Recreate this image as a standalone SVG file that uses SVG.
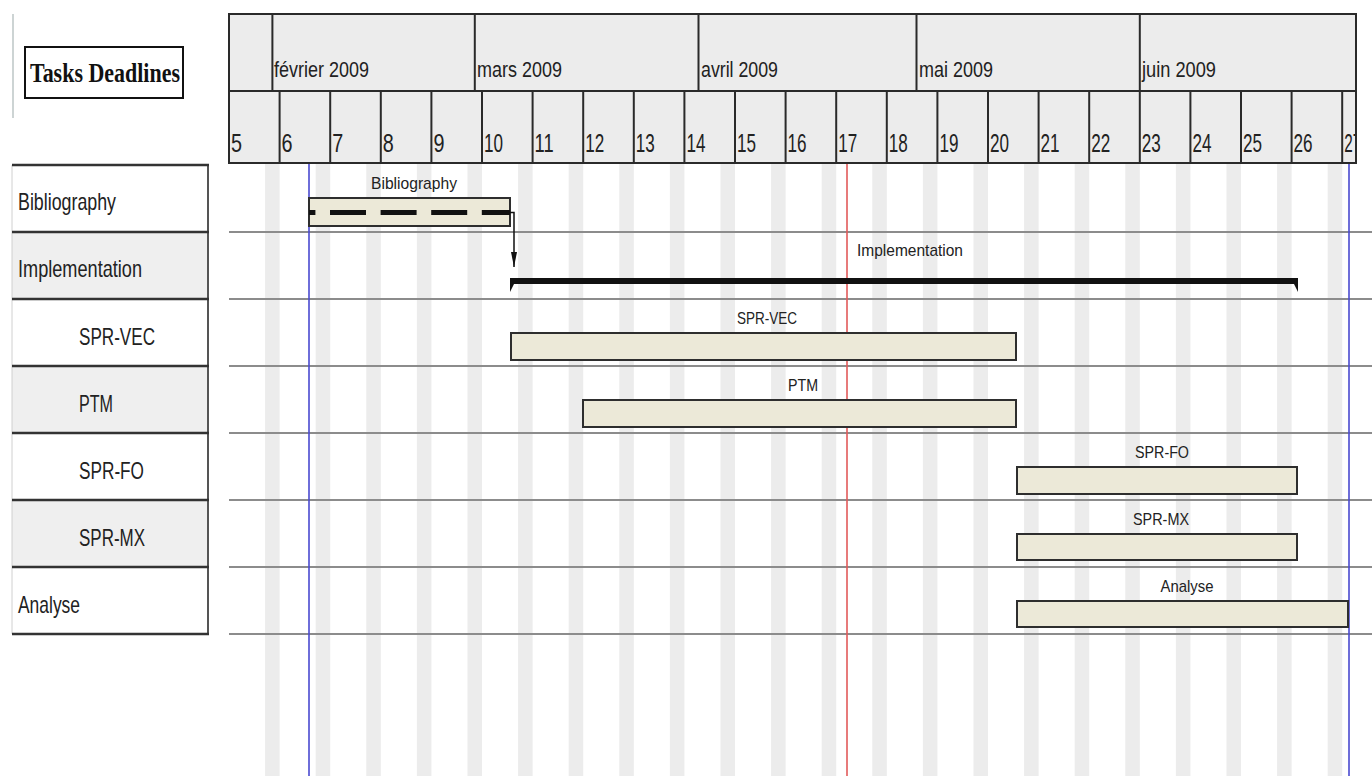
<svg xmlns="http://www.w3.org/2000/svg" width="1372" height="776" viewBox="0 0 1372 776">
<defs>
<style>
.hdr{fill:#ececec;stroke:none}
.hl{stroke:#2a2a2a;stroke-width:2;fill:none}
.mon{font-family:"Liberation Sans",Arial,sans-serif;font-size:22px;fill:#222}
.wk{font-family:"Liberation Sans",Arial,sans-serif;font-size:26px;fill:#222}
.stripe{fill:#ececec}
.grid{stroke:#8c8c8c;stroke-width:2}
.cellw{fill:#ffffff}
.cellg{fill:#efefef}
.rowb{stroke:#333;stroke-width:2.5}
.lbl{font-family:"Liberation Sans",Arial,sans-serif;font-size:24px;fill:#222}
.bar{fill:#ece9d8;stroke:#2e2e2e;stroke-width:2}
.blbl{font-family:"Liberation Sans",Arial,sans-serif;font-size:17px;fill:#222;text-anchor:middle}
</style>
<clipPath id="hclip"><rect x="229" y="14" width="1127" height="150"/></clipPath>
<marker id="arr" markerWidth="15" markerHeight="6" refX="15" refY="3" orient="auto" markerUnits="userSpaceOnUse" viewBox="0 0 15 6">
<path d="M0,0 L15,3 L0,6 Z" fill="#111"/>
</marker>
</defs>
<rect x="0" y="0" width="1372" height="776" fill="#ffffff"/>

<!-- weekend stripes -->
<g id="stripes">
<rect class="stripe" x="265.1" y="163" width="14.5" height="613"/>
<rect class="stripe" x="315.7" y="163" width="14.5" height="613"/>
<rect class="stripe" x="366.3" y="163" width="14.5" height="613"/>
<rect class="stripe" x="416.9" y="163" width="14.5" height="613"/>
<rect class="stripe" x="467.5" y="163" width="14.5" height="613"/>
<rect class="stripe" x="518.1" y="163" width="14.5" height="613"/>
<rect class="stripe" x="568.7" y="163" width="14.5" height="613"/>
<rect class="stripe" x="619.3" y="163" width="14.5" height="613"/>
<rect class="stripe" x="669.9" y="163" width="14.5" height="613"/>
<rect class="stripe" x="720.5" y="163" width="14.5" height="613"/>
<rect class="stripe" x="771.1" y="163" width="14.5" height="613"/>
<rect class="stripe" x="821.7" y="163" width="14.5" height="613"/>
<rect class="stripe" x="872.3" y="163" width="14.5" height="613"/>
<rect class="stripe" x="922.9" y="163" width="14.5" height="613"/>
<rect class="stripe" x="973.5" y="163" width="14.5" height="613"/>
<rect class="stripe" x="1024.1" y="163" width="14.5" height="613"/>
<rect class="stripe" x="1074.7" y="163" width="14.5" height="613"/>
<rect class="stripe" x="1125.3" y="163" width="14.5" height="613"/>
<rect class="stripe" x="1175.9" y="163" width="14.5" height="613"/>
<rect class="stripe" x="1226.5" y="163" width="14.5" height="613"/>
<rect class="stripe" x="1277.1" y="163" width="14.5" height="613"/>
<rect class="stripe" x="1327.7" y="163" width="14.5" height="613"/>
</g>

<!-- row grid lines -->
<g id="rowlines">
<line class="grid" x1="229" y1="232" x2="1372" y2="232"/>
<line class="grid" x1="229" y1="299" x2="1372" y2="299"/>
<line class="grid" x1="229" y1="366" x2="1372" y2="366"/>
<line class="grid" x1="229" y1="433" x2="1372" y2="433"/>
<line class="grid" x1="229" y1="500" x2="1372" y2="500"/>
<line class="grid" x1="229" y1="567" x2="1372" y2="567"/>
<line class="grid" x1="229" y1="634" x2="1372" y2="634"/>
</g>

<!-- marker lines -->
<g id="datelines">
<line x1="309" y1="163" x2="309" y2="776" stroke="#4a4ad0" stroke-width="1.6"/>
<line x1="1349" y1="163" x2="1349" y2="776" stroke="#4a4ad0" stroke-width="1.6"/>
<line x1="847" y1="163" x2="847" y2="776" stroke="#e25a5a" stroke-width="1.6"/>
</g>

<!-- timeline header -->
<g id="header">
<g clip-path="url(#hclip)">
<rect class="hdr" x="229" y="14" width="1127" height="149"/>
<line class="hl" x1="229" y1="91" x2="1356" y2="91"/>
<g class="hl">
<line x1="272.4" y1="14" x2="272.4" y2="91"/>
<line x1="474.8" y1="14" x2="474.8" y2="91"/>
<line x1="698.5" y1="14" x2="698.5" y2="91"/>
<line x1="916.5" y1="14" x2="916.5" y2="91"/>
<line x1="1139.8" y1="14" x2="1139.8" y2="91"/>
<line x1="279.6" y1="91" x2="279.6" y2="163"/>
<line x1="330.2" y1="91" x2="330.2" y2="163"/>
<line x1="380.8" y1="91" x2="380.8" y2="163"/>
<line x1="431.4" y1="91" x2="431.4" y2="163"/>
<line x1="482" y1="91" x2="482" y2="163"/>
<line x1="532.6" y1="91" x2="532.6" y2="163"/>
<line x1="583.2" y1="91" x2="583.2" y2="163"/>
<line x1="633.8" y1="91" x2="633.8" y2="163"/>
<line x1="684.4" y1="91" x2="684.4" y2="163"/>
<line x1="735" y1="91" x2="735" y2="163"/>
<line x1="785.6" y1="91" x2="785.6" y2="163"/>
<line x1="836.2" y1="91" x2="836.2" y2="163"/>
<line x1="886.8" y1="91" x2="886.8" y2="163"/>
<line x1="937.4" y1="91" x2="937.4" y2="163"/>
<line x1="988" y1="91" x2="988" y2="163"/>
<line x1="1038.6" y1="91" x2="1038.6" y2="163"/>
<line x1="1089.2" y1="91" x2="1089.2" y2="163"/>
<line x1="1139.8" y1="91" x2="1139.8" y2="163"/>
<line x1="1190.4" y1="91" x2="1190.4" y2="163"/>
<line x1="1241" y1="91" x2="1241" y2="163"/>
<line x1="1291.6" y1="91" x2="1291.6" y2="163"/>
<line x1="1342.2" y1="91" x2="1342.2" y2="163"/>
</g>
<text class="mon" x="274" y="77" textLength="95" lengthAdjust="spacingAndGlyphs">février 2009</text>
<text class="mon" x="477" y="77" textLength="85" lengthAdjust="spacingAndGlyphs">mars 2009</text>
<text class="mon" x="701" y="77" textLength="77" lengthAdjust="spacingAndGlyphs">avril 2009</text>
<text class="mon" x="919" y="77" textLength="74" lengthAdjust="spacingAndGlyphs">mai 2009</text>
<text class="mon" x="1142" y="77" textLength="74" lengthAdjust="spacingAndGlyphs">juin 2009</text>
<text class="wk" x="231" y="152" textLength="11" lengthAdjust="spacingAndGlyphs">5</text>
<text class="wk" x="281.6" y="152" textLength="11" lengthAdjust="spacingAndGlyphs">6</text>
<text class="wk" x="332.2" y="152" textLength="11" lengthAdjust="spacingAndGlyphs">7</text>
<text class="wk" x="382.8" y="152" textLength="11" lengthAdjust="spacingAndGlyphs">8</text>
<text class="wk" x="433.4" y="152" textLength="11" lengthAdjust="spacingAndGlyphs">9</text>
<text class="wk" x="484" y="152" textLength="19" lengthAdjust="spacingAndGlyphs">10</text>
<text class="wk" x="534.6" y="152" textLength="19" lengthAdjust="spacingAndGlyphs">11</text>
<text class="wk" x="585.2" y="152" textLength="19" lengthAdjust="spacingAndGlyphs">12</text>
<text class="wk" x="635.8" y="152" textLength="19" lengthAdjust="spacingAndGlyphs">13</text>
<text class="wk" x="686.4" y="152" textLength="19" lengthAdjust="spacingAndGlyphs">14</text>
<text class="wk" x="737" y="152" textLength="19" lengthAdjust="spacingAndGlyphs">15</text>
<text class="wk" x="787.6" y="152" textLength="19" lengthAdjust="spacingAndGlyphs">16</text>
<text class="wk" x="838.2" y="152" textLength="19" lengthAdjust="spacingAndGlyphs">17</text>
<text class="wk" x="888.8" y="152" textLength="19" lengthAdjust="spacingAndGlyphs">18</text>
<text class="wk" x="939.4" y="152" textLength="19" lengthAdjust="spacingAndGlyphs">19</text>
<text class="wk" x="990" y="152" textLength="19" lengthAdjust="spacingAndGlyphs">20</text>
<text class="wk" x="1040.6" y="152" textLength="19" lengthAdjust="spacingAndGlyphs">21</text>
<text class="wk" x="1091.2" y="152" textLength="19" lengthAdjust="spacingAndGlyphs">22</text>
<text class="wk" x="1141.8" y="152" textLength="19" lengthAdjust="spacingAndGlyphs">23</text>
<text class="wk" x="1192.4" y="152" textLength="19" lengthAdjust="spacingAndGlyphs">24</text>
<text class="wk" x="1243" y="152" textLength="19" lengthAdjust="spacingAndGlyphs">25</text>
<text class="wk" x="1293.6" y="152" textLength="19" lengthAdjust="spacingAndGlyphs">26</text>
<text class="wk" x="1344.2" y="152" textLength="17" lengthAdjust="spacingAndGlyphs">27</text>
</g>
<rect x="229" y="14" width="1127" height="149" fill="none" stroke="#2a2a2a" stroke-width="2"/>
</g>

<!-- title box -->
<g id="title">
<line x1="13" y1="14" x2="13" y2="118" stroke="#cdd4d4" stroke-width="2"/>
<rect x="25" y="47" width="158" height="51" fill="#ffffff" stroke="#111" stroke-width="2"/>
<text x="30" y="82" font-family="'Liberation Serif','Times New Roman',serif" font-weight="bold" font-size="27" fill="#111" textLength="150" lengthAdjust="spacingAndGlyphs">Tasks Deadlines</text>
</g>

<!-- task list (left panel) -->
<g id="task-list">
<g id="row-bibliography">
<rect class="cellw" x="12" y="165" width="196" height="67"/>
<text class="lbl" x="18" y="210" textLength="98" lengthAdjust="spacingAndGlyphs">Bibliography</text>
</g>
<g id="row-implementation">
<rect class="cellg" x="12" y="232" width="196" height="67"/>
<text class="lbl" x="18" y="277" textLength="124" lengthAdjust="spacingAndGlyphs">Implementation</text>
</g>
<g id="row-sprvec">
<rect class="cellw" x="12" y="299" width="196" height="67"/>
<text class="lbl" x="79" y="345" textLength="76" lengthAdjust="spacingAndGlyphs">SPR-VEC</text>
</g>
<g id="row-ptm">
<rect class="cellg" x="12" y="366" width="196" height="67"/>
<text class="lbl" x="79" y="412" textLength="34" lengthAdjust="spacingAndGlyphs">PTM</text>
</g>
<g id="row-sprfo">
<rect class="cellw" x="12" y="433" width="196" height="67"/>
<text class="lbl" x="79" y="479" textLength="65" lengthAdjust="spacingAndGlyphs">SPR-FO</text>
</g>
<g id="row-sprmx">
<rect class="cellg" x="12" y="500" width="196" height="67"/>
<text class="lbl" x="79" y="546" textLength="66" lengthAdjust="spacingAndGlyphs">SPR-MX</text>
</g>
<g id="row-analyse">
<rect class="cellw" x="12" y="567" width="196" height="67"/>
<text class="lbl" x="18" y="613" textLength="62" lengthAdjust="spacingAndGlyphs">Analyse</text>
</g>
<line x1="12" y1="165" x2="12" y2="634" stroke="#d0d0d0" stroke-width="1"/>
<line x1="208" y1="165" x2="208" y2="634" stroke="#555" stroke-width="2"/>
<line class="rowb" x1="12" y1="165" x2="209" y2="165"/>
<line class="rowb" x1="12" y1="232" x2="209" y2="232"/>
<line class="rowb" x1="12" y1="299" x2="209" y2="299"/>
<line class="rowb" x1="12" y1="366" x2="209" y2="366"/>
<line class="rowb" x1="12" y1="433" x2="209" y2="433"/>
<line class="rowb" x1="12" y1="500" x2="209" y2="500"/>
<line class="rowb" x1="12" y1="567" x2="209" y2="567"/>
<line class="rowb" x1="12" y1="634" x2="209" y2="634"/>
</g>

<!-- bars -->
<g id="bar-bibliography">
<rect class="bar" x="309" y="198" width="201" height="28"/>
<line x1="309" y1="212.5" x2="510" y2="212.5" stroke="#111" stroke-width="5" stroke-dasharray="36 14.6" stroke-dashoffset="29.6"/>
<text class="blbl" x="414" y="189" textLength="86" lengthAdjust="spacingAndGlyphs">Bibliography</text>
</g>
<g id="bar-implementation">
<path d="M510,278 H1298 V292 L1294,284 H514 L510,292 Z" fill="#111"/>
<text class="blbl" x="910" y="256" textLength="106" lengthAdjust="spacingAndGlyphs">Implementation</text>
</g>
<g id="bar-sprvec">
<rect class="bar" x="511" y="333" width="505" height="27"/>
<text class="blbl" x="767" y="324" textLength="60" lengthAdjust="spacingAndGlyphs">SPR-VEC</text>
</g>
<g id="bar-ptm">
<rect class="bar" x="583" y="400" width="433" height="27"/>
<text class="blbl" x="803" y="391" textLength="30" lengthAdjust="spacingAndGlyphs">PTM</text>
</g>
<g id="bar-sprfo">
<rect class="bar" x="1017" y="467" width="280" height="27"/>
<text class="blbl" x="1162" y="458" textLength="54" lengthAdjust="spacingAndGlyphs">SPR-FO</text>
</g>
<g id="bar-sprmx">
<rect class="bar" x="1017" y="534" width="280" height="26"/>
<text class="blbl" x="1161" y="525" textLength="56" lengthAdjust="spacingAndGlyphs">SPR-MX</text>
</g>
<g id="bar-analyse">
<rect class="bar" x="1017" y="601" width="331" height="26"/>
<text class="blbl" x="1187" y="592" textLength="53" lengthAdjust="spacingAndGlyphs">Analyse</text>
</g>

<!-- connectors -->
<g id="connectors">
<path d="M510,212.5 H514 V267" fill="none" stroke="#111" stroke-width="1.5" marker-end="url(#arr)"/>
</g>
</svg>
